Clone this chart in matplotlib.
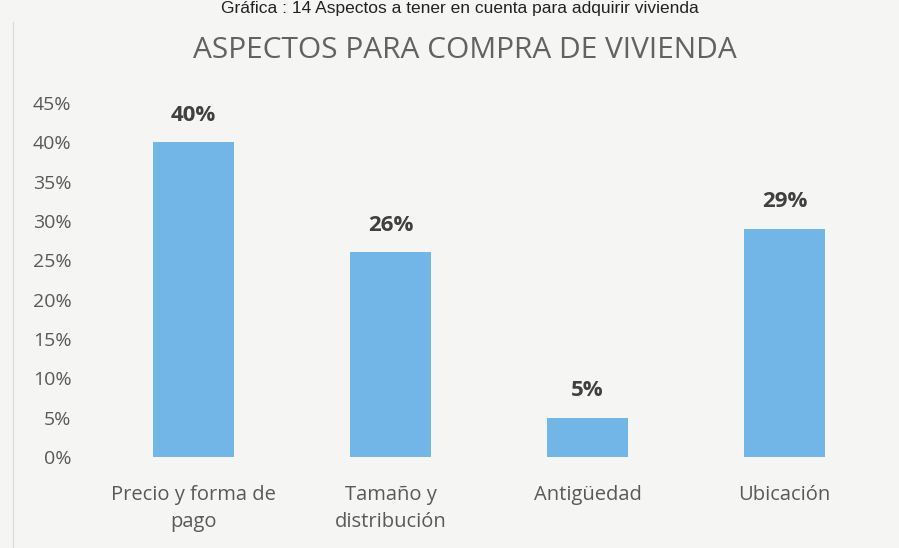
import matplotlib
matplotlib.use("Agg")
import matplotlib.pyplot as plt
from matplotlib.ticker import FuncFormatter, MultipleLocator
from matplotlib.lines import Line2D

categories = ["Precio y forma de\npago", "Tamaño y\ndistribución", "Antigüedad", "Ubicación"]
values = [0.40, 0.26, 0.05, 0.29]
value_labels = ["40%", "26%", "5%", "29%"]
title = "ASPECTOS PARA COMPRA DE VIVIENDA"
caption = "Gráfica : 14 Aspectos a tener en cuenta para adquirir vivienda"

bg = "#f5f5f3"
fig = plt.figure(figsize=(8.99, 5.48), dpi=100, facecolor=bg)
ax = fig.add_axes([0.1057, 0.166, 0.8765, 0.646])
ax.set_facecolor(bg)

x = range(len(categories))
ax.bar(x, values, width=0.41, color="#71b6e7", zorder=2)

ax.set_xlim(-0.5, len(categories) - 0.5)
ax.set_ylim(0, 0.45)
ax.yaxis.set_major_locator(MultipleLocator(0.05))
ax.yaxis.set_major_formatter(FuncFormatter(lambda v, p: f"{v*100:.0f}%"))

font = "Open Sans"
for s in ax.spines.values():
    s.set_visible(False)
ax.tick_params(axis="both", length=0, colors="#595959", labelsize=14)
ax.tick_params(axis="y", pad=17)
ax.tick_params(axis="x", pad=20)
ax.set_xticks(list(x))
ax.set_xticklabels(categories, fontsize=14.5, color="#595959", family=font, linespacing=1.45)
for lab in ax.get_yticklabels():
    lab.set_family(font)
    lab.set_fontsize(14)

for i, (v, t) in enumerate(zip(values, value_labels)):
    ax.text(i, v + 0.021, t, ha="center", va="bottom", fontsize=16,
            fontweight="bold", color="#404040", family=font)

fig.text(0.517, 1 - 50 / 548, title, ha="center", va="center", fontsize=21.5,
         color="#626262", family=font)
fig.text(0.512, 1 - 8 / 548, caption, ha="center", va="center", fontsize=12.5,
         color="#222222", family="Liberation Sans")

fig.add_artist(Line2D([13 / 899, 13 / 899], [0.0, 1 - 22 / 548], color="#d8d8d8", lw=0.8))

fig.savefig("out.png", dpi=100, facecolor=bg)
